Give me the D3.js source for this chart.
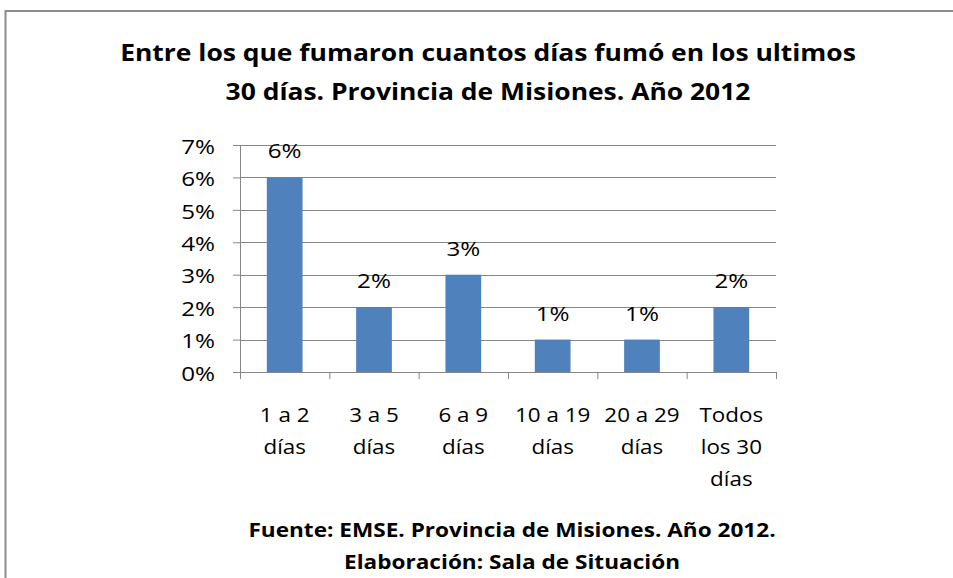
<!DOCTYPE html>
<html>
<head>
<meta charset="utf-8">
<script src="https://cdn.jsdelivr.net/npm/d3@7"></script>
<style>
  body { margin: 0; background: #fff; }
  svg text { font-family: "Open Sans", Lato, sans-serif; fill: #000; }
</style>
</head>
<body>
<div id="chart"></div>
<script>
// chart values
var categories = [["1 a 2", "días"], ["3 a 5", "días"], ["6 a 9", "días"],
  ["10 a 19", "días"], ["20 a 29", "días"], ["Todos", "los 30", "días"]];
var values = [6, 2, 3, 1, 1, 2];
var yTicks = [0, 1, 2, 3, 4, 5, 6, 7];
var titleLines = ["Entre los que fumaron cuantos días fumó en los ultimos",
  "30 días. Provincia de Misiones. Año 2012"];
var footerLines = ["Fuente: EMSE. Provincia de Misiones. Año 2012.",
  "Elaboración: Sala de Situación"];

var width = 953, height = 578;
var margin = { top: 145, right: 177, bottom: 206, left: 240 };
var plotW = width - margin.left - margin.right;
var plotH = height - margin.top - margin.bottom;

// the original text is a bit wider than Open Sans, stretch it sideways
var labelStretch = 1.12;

function place(x0, y0, s) {
  return "translate(" + x0 + "," + y0 + ") scale(" + s + ",1)";
}

var svg = d3.select("#chart").append("svg")
  .attr("width", width)
  .attr("height", height);

// outer frame (runs off the right and bottom edge like the reference)
svg.append("rect")
  .attr("x", 5.5).attr("y", 11)
  .attr("width", 1000).attr("height", 1000)
  .attr("fill", "none")
  .attr("stroke", "#8c8c8c")
  .attr("stroke-width", 2);

var x = d3.scaleBand()
  .domain(d3.range(categories.length))
  .range([0, plotW])
  .paddingInner(0.6)
  .paddingOuter(0.3);

var xAxisScale = d3.scaleLinear().domain([0, categories.length]).range([0, plotW]);

var y = d3.scaleLinear().domain([0, 7]).range([plotH, 0]);

var g = svg.append("g")
  .attr("transform", "translate(" + margin.left + "," + margin.top + ")");

// gridlines
g.append("g")
  .selectAll("line")
  .data(yTicks.filter(function (d) { return d > 0; }))
  .enter().append("line")
  .attr("x1", 0).attr("x2", plotW)
  .attr("y1", function (d) { return Math.round(y(d)) + 0.5; })
  .attr("y2", function (d) { return Math.round(y(d)) + 0.5; })
  .attr("stroke", "#868686")
  .attr("stroke-width", 1);

// bars
g.append("g")
  .selectAll("rect")
  .data(values)
  .enter().append("rect")
  .attr("x", function (d, i) { return x(i); })
  .attr("width", x.bandwidth())
  .attr("y", function (d) { return y(d); })
  .attr("height", function (d) { return plotH - y(d); })
  .attr("fill", "#4f81bd");

// y axis
var yAxis = g.append("g")
  .call(d3.axisLeft(y).tickValues(yTicks).tickSize(7).tickPadding(2)
    .tickFormat(function (d) { return d + "%"; }));
yAxis.attr("font-family", null).attr("font-size", null);
yAxis.select(".domain").attr("stroke", "#868686");
yAxis.selectAll(".tick line").attr("stroke", "#868686");
yAxis.selectAll("text")
  .style("font-size", "20px")
  .attr("x", 0)
  .attr("dy", "0.36em")
  .attr("transform", place(-25, 1, labelStretch * 1.08));

// x axis, ticks between categories
var xAxis = g.append("g")
  .attr("transform", "translate(0," + plotH + ")")
  .call(d3.axisBottom(xAxisScale).tickValues(d3.range(categories.length + 1))
    .tickSize(7).tickFormat(""));
xAxis.select(".domain").attr("stroke", "#868686");
xAxis.selectAll(".tick line").attr("stroke", "#868686");

// category labels
g.append("g")
  .selectAll("text")
  .data(categories)
  .enter().append("text")
  .attr("text-anchor", "middle")
  .attr("transform", function (d, i) {
    return place(x(i) + x.bandwidth() / 2, plotH + 50, labelStretch);
  })
  .style("font-size", "20px")
  .each(function (d) {
    var t = d3.select(this);
    d.forEach(function (line, k) {
      t.append("tspan")
        .attr("x", 0)
        .attr("dy", k === 0 ? 0 : 32)
        .text(line);
    });
  });

// value labels
g.append("g")
  .selectAll("text")
  .data(values)
  .enter().append("text")
  .attr("text-anchor", "middle")
  .attr("transform", function (d, i) {
    return place(x(i) + x.bandwidth() / 2, y(d) - 19, labelStretch * 1.08);
  })
  .style("font-size", "20px")
  .text(function (d) { return d + "%"; });

// title
svg.append("g")
  .selectAll("text")
  .data(titleLines)
  .enter().append("text")
  .attr("text-anchor", "middle")
  .attr("transform", function (d, i) { return place(488, 61 + i * 39, 1.15); })
  .style("font-size", "23px")
  .style("font-weight", "bold")
  .text(function (d) { return d; });

// footer
svg.append("g")
  .selectAll("text")
  .data(footerLines)
  .enter().append("text")
  .attr("text-anchor", "middle")
  .attr("transform", function (d, i) { return place(512, 537 + i * 32, 1.13); })
  .style("font-size", "20px")
  .style("font-weight", "bold")
  .text(function (d) { return d; });
</script>
</body>
</html>
